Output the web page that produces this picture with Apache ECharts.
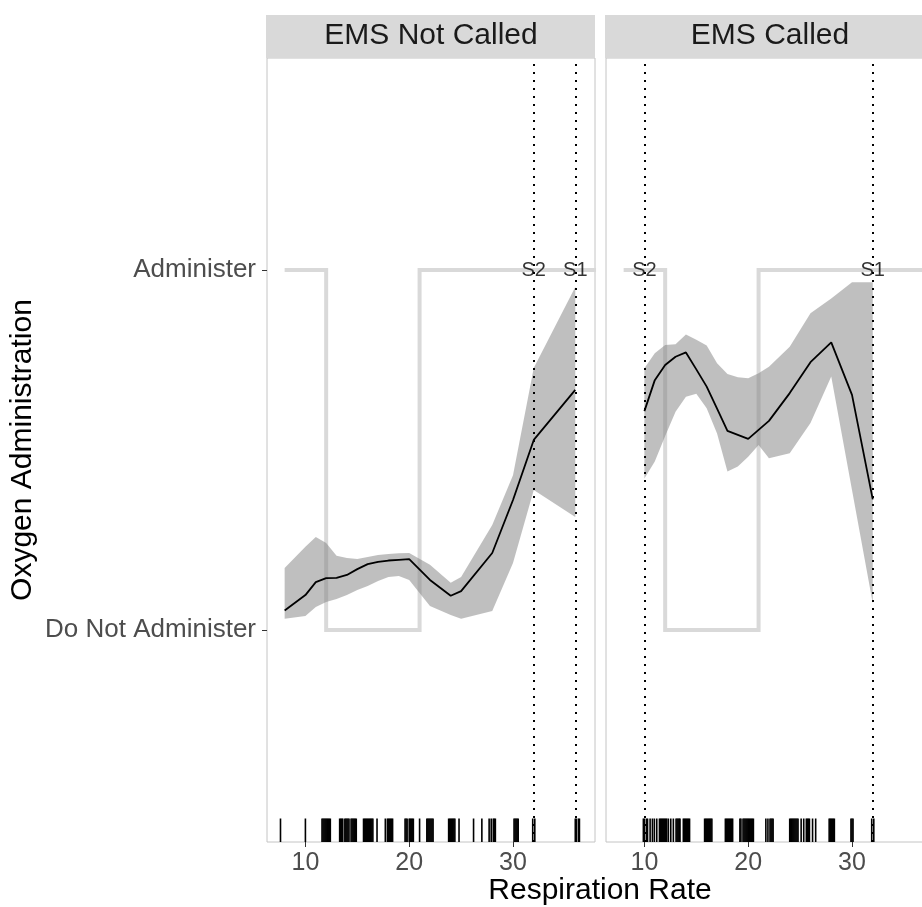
<!DOCTYPE html>
<html>
<head>
<meta charset="utf-8">
<script src="https://cdn.jsdelivr.net/npm/echarts@6/dist/echarts.min.js"></script>
<style>
  html, body { margin: 0; padding: 0; background: #ffffff; }
  #chart { width: 922px; height: 907px; }
</style>
</head>
<body>
<div id="chart"></div>
<script>
// ---- data ----------------------------------------------------------------
const panelTitles = ['EMS Not Called', 'EMS Called'];
const xTicks = [10, 20, 30];
const yTickValues = [0, 1];
const yTickLabels = ['Do Not Administer', 'Administer'];

// Recommended decision by respiration rate (drawn in both panels)
const stepX = [8, 12, 12, 21, 21, 38];
const stepY = [1, 1, 0, 0, 1, 1];

// EMS Not Called: smoothed share given oxygen, with its band
const ncX    = [8, 10, 11, 12, 13, 14, 15, 16, 17, 18, 19, 20, 22, 24, 25, 28, 30, 32, 36];
const ncMean = [0.054, 0.097, 0.133, 0.144, 0.145, 0.153, 0.169, 0.183, 0.189, 0.193, 0.195, 0.197, 0.139, 0.095, 0.108, 0.214, 0.361, 0.528, 0.667];
const ncHigh = [0.172, 0.231, 0.258, 0.242, 0.206, 0.200, 0.197, 0.203, 0.208, 0.211, 0.213, 0.214, 0.181, 0.131, 0.147, 0.292, 0.430, 0.728, 0.953];
const ncLow  = [0.031, 0.039, 0.064, 0.078, 0.086, 0.097, 0.111, 0.122, 0.136, 0.147, 0.150, 0.139, 0.067, 0.042, 0.031, 0.053, 0.186, 0.389, 0.314];

// EMS Called
const cX    = [10, 11, 12, 13, 14, 15, 16, 17, 18, 19, 20, 21, 22, 24, 26, 28, 30, 32];
const cMean = [0.608, 0.694, 0.736, 0.759, 0.771, 0.724, 0.676, 0.615, 0.553, 0.542, 0.531, 0.556, 0.581, 0.658, 0.744, 0.799, 0.653, 0.363];
const cHigh = [0.727, 0.769, 0.792, 0.794, 0.821, 0.806, 0.790, 0.741, 0.711, 0.702, 0.699, 0.713, 0.731, 0.787, 0.880, 0.921, 0.966, 0.966];
const cLow  = [0.421, 0.468, 0.539, 0.606, 0.648, 0.656, 0.616, 0.546, 0.440, 0.454, 0.481, 0.514, 0.477, 0.491, 0.575, 0.704, 0.389, 0.074];

// Observed respiration rates (rug)
const rugNotCalled = [
  7.6, 10.0,
  11.6, 11.7, 11.8, 11.9, 12.0, 12.1, 12.2, 12.3, 12.4,
  13.3, 13.4, 13.5, 13.6, 13.8, 13.9, 14.0, 14.1, 14.2, 14.4, 14.5, 14.6, 14.7, 14.8, 14.9,
  15.6, 15.7, 15.8, 15.9, 16.0, 16.1, 16.2, 16.3, 16.4, 16.5,
  16.9,
  17.7, 17.9, 18.0, 18.1, 18.2, 18.3, 18.4,
  19.6, 19.7, 19.8, 20.0, 20.1, 20.2, 20.3, 20.4,
  21.0,
  21.7, 21.8, 21.9, 22.0, 22.1, 22.2, 22.3,
  23.8, 23.9, 24.0, 24.1, 24.2, 24.3, 24.4,
  24.8, 26.2, 27.0, 27.7, 27.9, 28.1, 28.2, 28.3,
  30.1, 30.2, 30.3, 30.4, 30.5,
  31.9, 32.1,
  36.0, 36.1, 36.3, 36.4
];
const rugCalled = [
  9.9, 10.0, 10.2, 10.3,
  10.55, 10.77, 10.96, 11.19,
  11.45, 11.55, 11.65, 11.75, 11.85, 11.95, 12.05, 12.15,
  12.31, 12.54, 12.79,
  13.05, 13.15, 13.25, 13.35, 13.43,
  13.75, 13.85, 13.95, 14.05, 14.15, 14.25, 14.35,
  15.8, 15.9, 16.0, 16.1, 16.2, 16.3, 16.4, 16.5,
  17.8, 17.9, 18.0, 18.1, 18.2, 18.3, 18.4, 18.5,
  19.2, 19.3, 19.5, 19.6, 19.7, 19.8, 19.9, 20.0, 20.1, 20.2, 20.3, 20.4, 20.5,
  21.7, 21.9, 22.1, 22.2, 22.3, 22.4,
  24.0, 24.1, 24.2, 24.3, 24.4, 24.5, 24.6, 24.7, 24.8,
  25.1, 25.35, 25.6, 25.7, 25.8, 25.9, 26.2, 26.5,
  27.8, 27.9, 28.0, 28.1, 28.2, 28.3,
  29.9, 30.0, 30.1,
  31.9, 32.1
];

// Threshold markers per panel
const thresholdsNotCalled = [[32, 'S2'], [36, 'S1']];
const thresholdsCalled    = [[10, 'S2'], [32, 'S1']];

// ---- chart ---------------------------------------------------------------
const FONT = '"Liberation Sans", Arial, Helvetica, sans-serif';
const X_MIN = 6.3, X_MAX = 37.9;
const Y_MIN = -0.5889, Y_MAX = 1.5889;
const RUG_LEN = 23.5;

const panels = [
  { title: panelTitles[0], x: ncX, mean: ncMean, low: ncLow, high: ncHigh, rug: rugNotCalled, marks: thresholdsNotCalled, left: 267 },
  { title: panelTitles[1], x: cX,  mean: cMean,  low: cLow,  high: cHigh,  rug: rugCalled,    marks: thresholdsCalled,    left: 606 }
];
const PANEL_W = 328, PANEL_TOP = 58, PANEL_H = 784;

const grids = [], xAxes = [], yAxes = [], series = [], graphics = [];

panels.forEach((p, i) => {
  grids.push({
    left: p.left, top: PANEL_TOP, width: PANEL_W, height: PANEL_H,
    outerBoundsMode: 'none', containLabel: false,
    show: true, borderColor: '#c4c4c4', borderWidth: 1, backgroundColor: '#ffffff'
  });
  xAxes.push({
    type: 'value', gridIndex: i, min: X_MIN, max: X_MAX, position: 'bottom',
    axisLine: { show: false, onZero: false },
    splitLine: { show: false },
    axisTick: { show: true, customValues: xTicks, length: 5, lineStyle: { color: '#333333', width: 1 } },
    axisLabel: { show: true, customValues: xTicks, margin: 9, fontSize: 25, color: '#4d4d4d', fontFamily: FONT }
  });
  yAxes.push({
    type: 'value', gridIndex: i, min: Y_MIN, max: Y_MAX, position: 'left',
    axisLine: { show: false, onZero: false },
    splitLine: { show: false },
    axisTick: { show: i === 0, customValues: yTickValues, length: 5, lineStyle: { color: '#333333', width: 1 } },
    axisLabel: {
      show: i === 0, customValues: yTickValues, margin: 11, fontSize: 26, color: '#4d4d4d', fontFamily: FONT,
      formatter: v => yTickLabels[yTickValues.indexOf(v)]
    }
  });

  // decision step line
  series.push({
    type: 'line', xAxisIndex: i, yAxisIndex: i, z: 1, silent: true,
    data: stepX.map((x, k) => [x, stepY[k]]),
    showSymbol: false, symbol: 'none',
    lineStyle: { color: '#d9d9d9', width: 4, cap: 'butt', join: 'miter' }
  });

  // uncertainty band
  series.push({
    type: 'custom', xAxisIndex: i, yAxisIndex: i, z: 2, silent: true,
    data: p.x.map((x, k) => [x, p.low[k], p.high[k]]),
    encode: { x: 0, y: [1, 2] },
    renderItem(params, api) {
      if (params.dataIndex !== 0) return null;
      const pts = [];
      for (let k = 0; k < p.x.length; k++) pts.push(api.coord([p.x[k], p.high[k]]));
      for (let k = p.x.length - 1; k >= 0; k--) pts.push(api.coord([p.x[k], p.low[k]]));
      return { type: 'polygon', shape: { points: pts }, style: { fill: 'rgba(127,127,127,0.5)' } };
    }
  });

  // smoothed mean + threshold verticals
  series.push({
    type: 'line', xAxisIndex: i, yAxisIndex: i, z: 4, silent: true,
    data: p.x.map((x, k) => [x, p.mean[k]]),
    showSymbol: false, symbol: 'none',
    lineStyle: { color: '#000000', width: 1.8 },
    markLine: {
      silent: true, symbol: 'none', animation: false,
      label: { show: false },
      lineStyle: { color: '#000000', width: 2, type: [2, 6], cap: 'butt' },
      emphasis: { disabled: true },
      data: p.marks.map(m => ({ xAxis: m[0] }))
    }
  });

  // threshold labels
  series.push({
    type: 'scatter', xAxisIndex: i, yAxisIndex: i, z: 6, silent: true,
    symbolSize: 1, itemStyle: { color: 'rgba(0,0,0,0)' },
    data: p.marks.map(m => [m[0], 1, m[1]]),
    label: {
      show: true, position: 'inside', formatter: d => d.value[2],
      fontSize: 20, color: '#000000', fontFamily: FONT
    }
  });

  // rug of observed rates
  series.push({
    type: 'custom', xAxisIndex: i, yAxisIndex: i, z: 5, silent: true,
    data: p.rug.map(v => [v, Y_MIN]),
    encode: { x: 0, y: 1 },
    renderItem(params, api) {
      const base = api.coord([api.value(0), Y_MIN]);
      return {
        type: 'line',
        shape: { x1: base[0], y1: base[1], x2: base[0], y2: base[1] - RUG_LEN },
        style: { stroke: '#000000', lineWidth: 1.6 }
      };
    }
  });

  // facet strip
  graphics.push({
    type: 'rect', z: 10,
    shape: { x: p.left - 1, y: 15, width: PANEL_W + 1, height: 43 },
    style: { fill: '#d9d9d9' }
  });
  graphics.push({
    type: 'text', z: 11,
    x: p.left + PANEL_W / 2, y: 36,
    style: { text: p.title, font: '30px ' + FONT, fill: '#1a1a1a', align: 'center', verticalAlign: 'middle' }
  });
});

// axis titles
graphics.push({
  type: 'text', z: 11, x: 600, y: 891,
  style: { text: 'Respiration Rate', font: '30px ' + FONT, fill: '#000000', align: 'center', verticalAlign: 'middle' }
});
graphics.push({
  type: 'text', z: 11, x: 23, y: 450, rotation: Math.PI / 2,
  style: { text: 'Oxygen Administration', font: '30px ' + FONT, fill: '#000000', align: 'center', verticalAlign: 'middle' }
});

const chart = echarts.init(document.getElementById('chart'), null, { renderer: 'canvas' });
chart.setOption({
  animation: false,
  backgroundColor: '#ffffff',
  textStyle: { fontFamily: FONT },
  grid: grids,
  xAxis: xAxes,
  yAxis: yAxes,
  series: series,
  graphic: graphics
});
</script>
</body>
</html>
